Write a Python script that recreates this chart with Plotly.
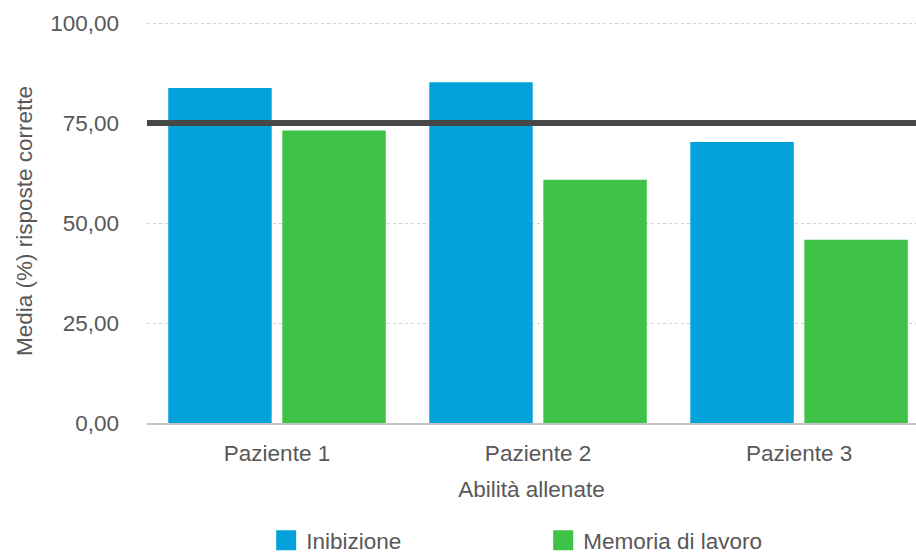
import plotly.graph_objects as go

categories = ["Paziente 1", "Paziente 2", "Paziente 3"]
series_names = ["Inibizione", "Memoria di lavoro"]
inibizione = [83.75, 85.2, 70.25]
memoria = [73.1, 60.8, 45.8]
soglia = 75
y_ticks = [0, 25, 50, 75, 100]

colors = ["#03A2DB", "#3EC346"]
text_color = "#585858"
font_family = "Liberation Sans, Arial, sans-serif"
fs = 22.5

fig = go.Figure()
for name, vals, col in zip(series_names, [inibizione, memoria], colors):
    fig.add_trace(go.Bar(x=categories, y=vals, name=name, marker=dict(color=col, line=dict(width=0)),
                         showlegend=False))
# legend entries with larger square swatches
for name, col in zip(series_names, colors):
    fig.add_trace(go.Scatter(x=[None], y=[None], mode="markers", name=name,
                             marker=dict(symbol="square", size=16, color=col, line=dict(width=4, color=col))))

fig.add_shape(type="line", xref="paper", x0=0, x1=1, yref="y", y0=soglia, y1=soglia,
              line=dict(color="#474747", width=6), layer="above")

fig.update_layout(
    width=916, height=554,
    margin=dict(l=147, r=0, t=19, b=131, autoexpand=False),
    paper_bgcolor="white", plot_bgcolor="white",
    font=dict(family=font_family, size=fs, color=text_color),
    barmode="group", bargap=0.126, bargroupgap=0.093,
    separators=",.",
    showlegend=True,
    legend=dict(orientation="h", x=0.155, xanchor="left", y=-0.291, yanchor="middle",
                entrywidth=232, font=dict(size=fs, color=text_color), bgcolor="rgba(0,0,0,0)"),
    xaxis=dict(type="category", range=[-0.498, 2.448], showgrid=False,
               showline=True, linecolor="#C4C4C4", linewidth=2, ticks="",
               ticklabelstandoff=9,
               title=dict(text="Abilità allenate", standoff=16, font=dict(size=fs, color=text_color)),
               automargin=False),
    yaxis=dict(range=[0, 101], tickvals=y_ticks, tickformat=".2f",
               showgrid=True, gridcolor="#CFCFCF", gridwidth=1, griddash="dot",
               zeroline=False, showline=False, ticks="", ticklabelstandoff=27,
               title=dict(text="Media (%) risposte corrette", standoff=11, font=dict(size=fs, color=text_color)),
               automargin=False),
)

fig.write_html("out.html")
